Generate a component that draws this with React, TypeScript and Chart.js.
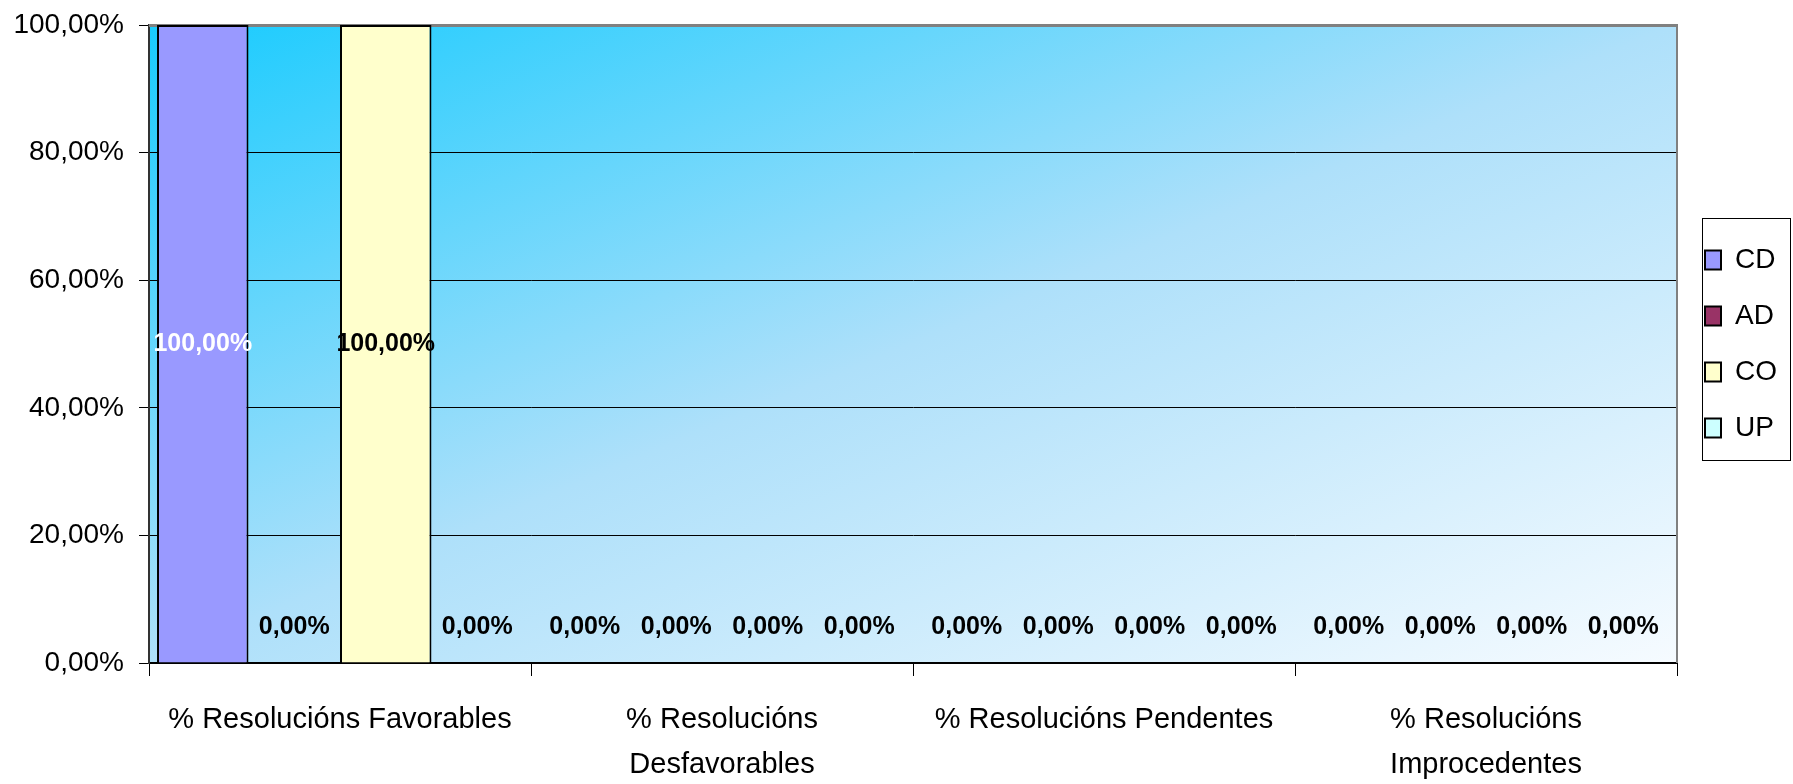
import React, { useEffect, useRef } from "react";
import { Chart, registerables } from "chart.js";

Chart.register(...registerables);

const categories: (string | string[])[] = [
  "% Resolucións Favorables",
  ["% Resolucións", "Desfavorables"],
  "% Resolucións Pendentes",
  ["% Resolucións", "Improcedentes"],
];

const seriesNames = ["CD", "AD", "CO", "UP"];
const cdValues = [100, 0, 0, 0];
const adValues = [0, 0, 0, 0];
const coValues = [100, 0, 0, 0];
const upValues = [0, 0, 0, 0];

const seriesColors = ["#9999FF", "#993366", "#FFFFCC", "#CCFFFF"];
const labelColors = ["#FFFFFF", "#000000", "#000000", "#000000"];

const FONT = "'Liberation Sans', Arial, sans-serif";

const fmt = (v: number) => v.toFixed(2).replace(".", ",") + "%";

const bgPlugin = {
  id: "plotBg",
  beforeDraw(chart: any) {
    const { ctx, chartArea } = chart;
    const { left, top, right, bottom } = chartArea;
    const w = right - left;
    const h = bottom - top;
    ctx.save();
    ctx.translate(left, top);
    ctx.scale(w, h);
    const g = ctx.createLinearGradient(0, 0, 1, 1);
    g.addColorStop(0, "#18CBFE");
    g.addColorStop(0.5, "#AEE0FA");
    g.addColorStop(1, "#F6FBFF");
    ctx.fillStyle = g;
    ctx.fillRect(0, 0, 1, 1);
    ctx.restore();
  },
  beforeDatasetsDraw(chart: any) {
    const { ctx, chartArea } = chart;
    const { left, top, right, bottom } = chartArea;
    ctx.save();
    ctx.strokeStyle = "#808080";
    ctx.lineWidth = 3;
    ctx.beginPath();
    ctx.moveTo(left, top + 0.5);
    ctx.lineTo(right + 1, top + 0.5);
    ctx.stroke();
    ctx.lineWidth = 2;
    ctx.beginPath();
    ctx.moveTo(right, top);
    ctx.lineTo(right, bottom);
    ctx.stroke();
    ctx.restore();
  },
};

const labelPlugin = {
  id: "valueLabels",
  afterDatasetsDraw(chart: any) {
    const { ctx } = chart;
    ctx.save();
    ctx.font = `bold 25px ${FONT}`;
    ctx.textAlign = "center";
    ctx.textBaseline = "middle";
    chart.data.datasets.forEach((ds: any, di: number) => {
      const meta = chart.getDatasetMeta(di);
      meta.data.forEach((el: any, i: number) => {
        const v = ds.data[i];
        const y = v > 0 ? (el.y + el.base) / 2 : el.base - 36;
        ctx.fillStyle = v > 0 ? labelColors[di] : "#000000";
        ctx.fillText(fmt(v), el.x, y);
      });
    });
    ctx.restore();
  },
};

const legendBoxPlugin = {
  id: "legendBox",
  afterDraw(chart: any) {
    const lg = chart.legend;
    if (!lg || !lg.legendHitBoxes || !lg.legendHitBoxes.length) return;
    const hb = lg.legendHitBoxes;
    const x0 = Math.min(...hb.map((b: any) => b.left)) - 3;
    const x1 = Math.max(...hb.map((b: any) => b.left + b.width)) + 13;
    const y0 = Math.min(...hb.map((b: any) => b.top)) - 28;
    const y1 = Math.max(...hb.map((b: any) => b.top + b.height)) + 18;
    const { ctx } = chart;
    ctx.save();
    ctx.strokeStyle = "#000000";
    ctx.lineWidth = 1;
    ctx.strokeRect(Math.round(x0) + 0.5, Math.round(y0) + 0.5, Math.round(x1 - x0), Math.round(y1 - y0));
    ctx.restore();
  },
};

export default function App() {
  const ref = useRef<HTMLCanvasElement>(null);
  useEffect(() => {
    document.body.style.margin = "0";
    const data = [cdValues, adValues, coValues, upValues];
    const chart = new Chart(ref.current!, {
      type: "bar",
      data: {
        labels: categories as any,
        datasets: seriesNames.map((name, i) => ({
          label: name,
          data: data[i],
          backgroundColor: seriesColors[i],
          borderColor: "#000000",
          borderWidth: 2,
          categoryPercentage: 0.958,
          barPercentage: 1,
        })),
      },
      options: {
        animation: false,
        responsive: false,
        maintainAspectRatio: false,
        layout: { padding: { top: 25, right: 6, left: 0, bottom: 0 } },
        plugins: {
          tooltip: { enabled: false },
          legend: {
            position: "right",
            fullSize: false,
            labels: {
              boxWidth: 16,
              boxHeight: 19,
              padding: 28,
              color: "#000",
              font: { family: FONT, size: 28 },
            },
          },
        },
        scales: {
          x: {
            grid: {
              display: true,
              drawOnChartArea: false,
              drawTicks: true,
              tickLength: 13,
              color: "#000",
              offset: true,
            },
            border: { display: true, color: "#000", width: 2 },
            ticks: {
              color: "#000",
              padding: 22,
              maxRotation: 0,
              autoSkip: false,
              font: { family: FONT, size: 29, lineHeight: 1.55 },
            },
            afterFit(scale: any) {
              scale.height = 784 - 663;
            },
          },
          y: {
            min: 0,
            max: 100,
            ticks: {
              stepSize: 20,
              color: "#000",
              padding: 15,
              font: { family: FONT, size: 28 },
              callback: (v: any) => fmt(Number(v)),
            },
            grid: { color: "#000", lineWidth: 1, tickLength: 10 },
            border: { display: true, color: "#333", width: 2 },
            afterFit(scale: any) {
              scale.width = 149;
              scale.paddingTop = 0;
              scale.paddingBottom = 0;
            },
          },
        },
      },
      plugins: [bgPlugin, labelPlugin, legendBoxPlugin],
    });
    return () => chart.destroy();
  }, []);
  return (
    <div style={{ width: 1793, height: 784 }}>
      <canvas ref={ref} width={1793} height={784} style={{ display: "block" }} />
    </div>
  );
}
